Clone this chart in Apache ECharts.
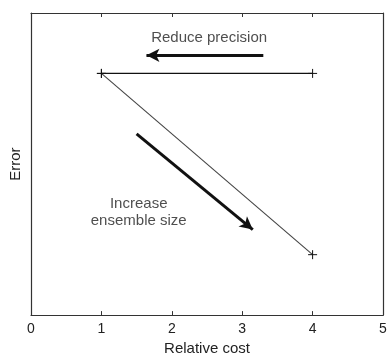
<!DOCTYPE html>
<html>
<head>
<meta charset="utf-8">
<script src="https://cdn.jsdelivr.net/npm/echarts@6/dist/echarts.min.js"></script>
<style>html,body{margin:0;padding:0;background:#fff}#c{width:390px;height:361px}</style>
</head>
<body>
<div id="c"></div>
<script>
// Data
const xTicks = [0, 1, 2, 3, 4, 5];
const precisionLine = [[1, 0.8], [4, 0.8]];
const ensembleLine = [[1, 0.8], [4, 0.2]];
const reducePrecisionArrow = [[3.30, 0.86], [1.64, 0.86]];
const ensembleArrow = [[1.50, 0.60], [3.15, 0.283]];
const annotations = [
  { text: 'Reduce precision', pos: [2.53, 0.917] },
  { text: 'Increase\nensemble size', pos: [1.53, 0.34] }
];
const axisNames = { x: 'Relative cost', y: 'Error' };

const chart = echarts.init(document.getElementById('c'), null, { renderer: 'canvas' });
const fontFamily = '"Liberation Sans", Arial, Helvetica, sans-serif';
const plus = 'path://M0,5L10,5M5,0L5,10';
const axisLineStyle = { show: true, onZero: false, lineStyle: { color: '#333', width: 1.2 } };

function arrowSeries(pts) {
  return {
    type: 'line', data: [], silent: true,
    markLine: {
      silent: true,
      symbol: ['none', 'arrow'],
      symbolSize: [10, 13],
      label: { show: false },
      lineStyle: { color: '#111', width: 3, type: 'solid' },
      data: [[{ coord: pts[0] }, { coord: pts[1] }]],
      animation: false
    }
  };
}

chart.setOption({
  animation: false,
  backgroundColor: '#fff',
  textStyle: { fontFamily },
  grid: { left: 29, right: 7, top: 13, bottom: 42 },
  xAxis: [{
    type: 'value', min: xTicks[0], max: xTicks[xTicks.length - 1], interval: 1,
    name: axisNames.x, nameLocation: 'middle', nameGap: 19,
    nameTextStyle: { fontSize: 15, color: '#222', fontFamily },
    axisLine: axisLineStyle,
    axisTick: { show: true, inside: true, length: 4, lineStyle: { color: '#333' } },
    axisLabel: { fontSize: 14, color: '#222', margin: 7, fontFamily },
    splitLine: { show: false }
  }, {
    type: 'value', position: 'top', min: 0, max: 5, interval: 1,
    axisLine: axisLineStyle,
    axisTick: { show: true, inside: true, length: 4, lineStyle: { color: '#333' } },
    axisLabel: { show: false },
    splitLine: { show: false }
  }],
  yAxis: [{
    type: 'value', min: 0, max: 1,
    name: axisNames.y, nameLocation: 'middle', nameGap: 8, nameRotate: 90,
    nameTextStyle: { fontSize: 15, color: '#222', fontFamily },
    axisLine: axisLineStyle,
    axisTick: { show: false },
    axisLabel: { show: false },
    splitLine: { show: false }
  }, {
    type: 'value', position: 'right', min: 0, max: 1,
    axisLine: axisLineStyle,
    axisTick: { show: false },
    axisLabel: { show: false },
    splitLine: { show: false }
  }],
  series: [
    {
      type: 'line', data: ensembleLine, silent: true,
      lineStyle: { color: '#444', width: 1.1 },
      symbol: plus, symbolSize: 9,
      itemStyle: { color: 'none', borderColor: '#111', borderWidth: 1 },
      z: 2
    },
    {
      type: 'line', data: precisionLine, silent: true,
      lineStyle: { color: '#111', width: 1.3 },
      symbol: plus, symbolSize: 9,
      itemStyle: { color: 'none', borderColor: '#111', borderWidth: 1 },
      z: 3
    },
    arrowSeries(reducePrecisionArrow),
    arrowSeries(ensembleArrow),
    {
      type: 'scatter', silent: true, symbolSize: 0,
      data: annotations.map(a => ({ value: a.pos, name: a.text })),
      label: {
        show: true, position: 'inside', formatter: p => p.name,
        fontSize: 15, color: '#222', align: 'center', lineHeight: 17, fontFamily
      }
    }
  ]
});
</script>
</body>
</html>
